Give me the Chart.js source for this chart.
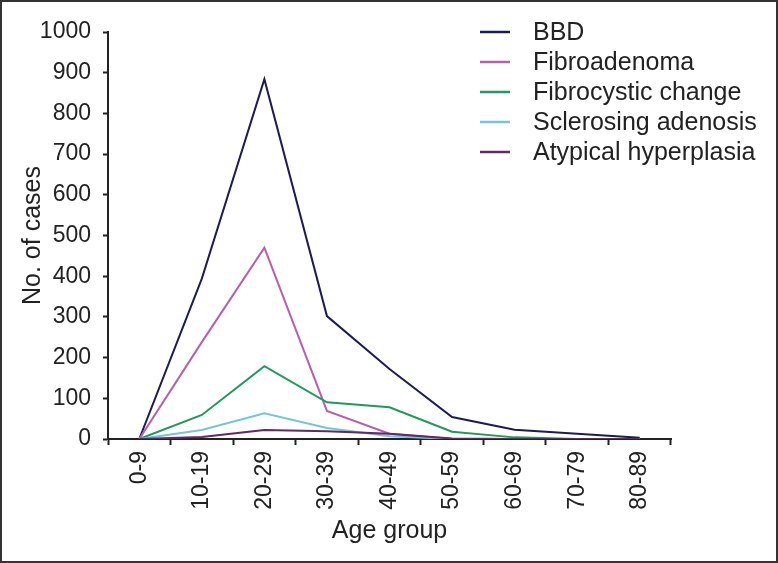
<!DOCTYPE html>
<html>
<head>
<meta charset="utf-8">
<script src="https://cdn.jsdelivr.net/npm/chart.js@4"></script>
<style>
html,body{margin:0;padding:0;background:#fff;}
#wrap{width:778px;height:563px;position:relative;}
</style>
</head>
<body>
<div id="wrap"><canvas id="c" width="778" height="563"></canvas></div>
<script>
const categories = ['0-9','10-19','20-29','30-39','40-49','50-59','60-69','70-79','80-89'];
const seriesNames = ['BBD','Fibroadenoma','Fibrocystic change','Sclerosing adenosis','Atypical hyperplasia'];
const bbd = [0, 394, 884, 302, 172, 54, 23, 13, 3];
const fibroadenoma = [0, 238, 470, 69, 13, 0, 0, 0, 0];
const fibrocystic = [0, 59, 179, 90, 78, 18, 4, 0, 0];
const sclerosing = [0, 22, 63, 27, 7, 0, 0, 0, 0];
const atypical = [0, 5, 22, 19, 13, 1, 0, 0, 0];
const yTicks = [0,100,200,300,400,500,600,700,800,900,1000];
const colors = ['#1c1c55','#b75fae','#1f9a5c','#72c6d8','#662766'];

const FONT = '"Liberation Sans", Arial, sans-serif';
const values = [bbd, fibroadenoma, fibrocystic, sclerosing, atypical];

const legendAndFrame = {
  id: 'legendAndFrame',
  afterDraw(chart) {
    const ctx = chart.ctx;
    ctx.save();
    ctx.font = '25px ' + FONT;
    ctx.textBaseline = 'middle';
    ctx.textAlign = 'left';
    const ys = [32, 62, 92, 122, 152];
    seriesNames.forEach((n, i) => {
      ctx.strokeStyle = colors[i];
      ctx.lineWidth = 2.5;
      ctx.beginPath();
      ctx.moveTo(480, ys[i]);
      ctx.lineTo(510, ys[i]);
      ctx.stroke();
      ctx.fillStyle = '#222';
      ctx.fillText(n, 533, ys[i] + 1);
    });
    ctx.strokeStyle = '#333';
    ctx.lineWidth = 2;
    ctx.strokeRect(1, 1, chart.width - 2, chart.height - 2);
    ctx.restore();
  }
};

new Chart(document.getElementById('c'), {
  type: 'line',
  data: {
    labels: categories,
    datasets: seriesNames.map((n, i) => ({
      label: n,
      data: values[i],
      borderColor: colors[i],
      backgroundColor: colors[i],
      borderWidth: 2,
      pointRadius: 0,
      tension: 0,
      fill: false
    })).reverse()
  },
  options: {
    responsive: false,
    animation: false,
    layout: { padding: { left: 0, right: 107, top: 32, bottom: 0 } },
    plugins: { legend: { display: false }, tooltip: { enabled: false } },
    scales: {
      x: {
        type: 'category',
        offset: true,
        afterFit(s) { s.height = 124; },
        grid: { display: true, offset: true, drawOnChartArea: false, drawTicks: true, tickLength: 6, tickWidth: 2, tickColor: '#222' },
        border: { display: true, color: '#222', width: 2 },
        ticks: { color: '#222', font: { family: FONT, size: 23 }, minRotation: 90, maxRotation: 90, padding: 6, autoSkip: false },
        title: { display: true, text: 'Age group', color: '#222', font: { family: FONT, size: 25 }, padding: { top: 0, bottom: 17 } }
      },
      y: {
        min: 0, max: 1000,
        afterFit(s) { s.width = 108; },
        afterBuildTicks(s) { s.ticks = yTicks.map(v => ({ value: v })); },
        grid: { display: true, drawOnChartArea: false, drawTicks: true, tickLength: 5, tickWidth: 2, tickColor: '#222' },
        border: { display: true, color: '#222', width: 2 },
        ticks: { color: '#222', font: { family: FONT, size: 23 }, padding: 12, callback: v => String(v) },
        title: { display: true, text: 'No. of cases', color: '#222', font: { family: FONT, size: 25 }, padding: { top: 18, bottom: 0 } }
      }
    }
  },
  plugins: [legendAndFrame]
});
</script>
</body>
</html>
